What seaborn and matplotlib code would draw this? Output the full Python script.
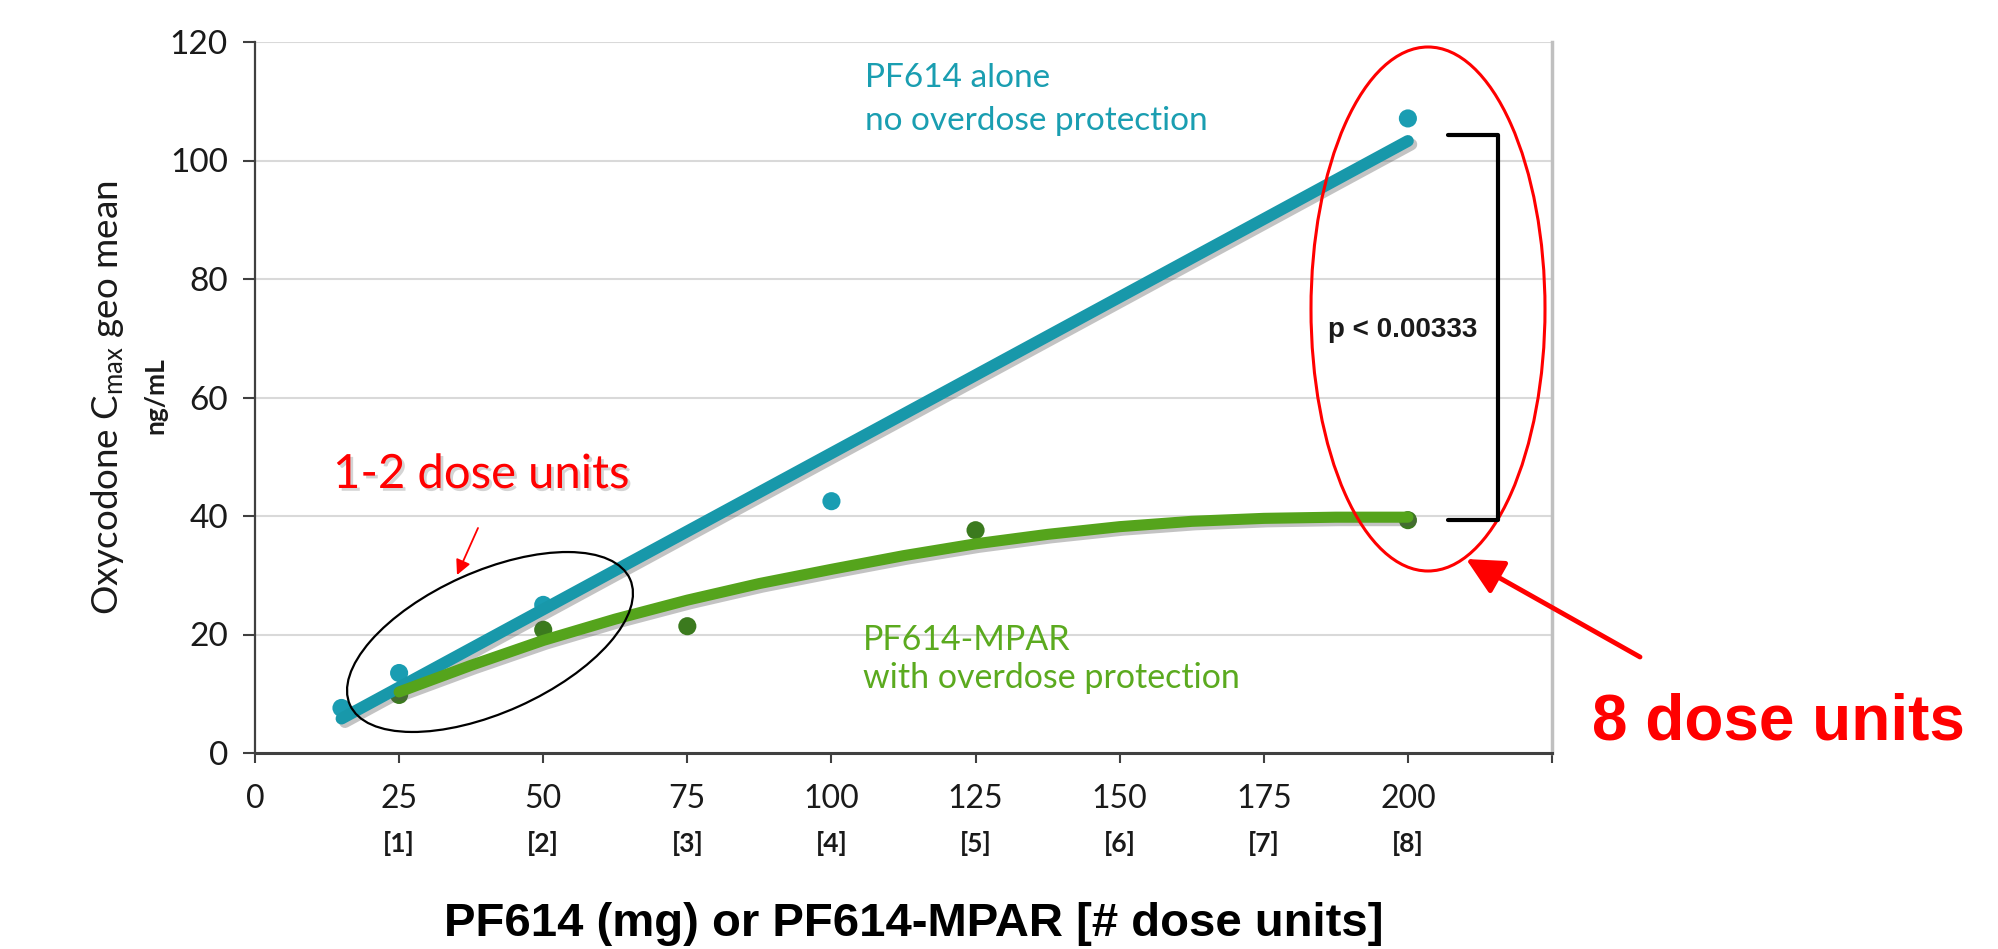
import numpy as np
import pandas as pd
import seaborn as sns
import matplotlib
matplotlib.use("Agg")
import matplotlib.pyplot as plt
from matplotlib import patches
from matplotlib import patheffects as pe
from matplotlib.lines import Line2D
from matplotlib.transforms import blended_transform_factory

# ---------------- data ----------------
x_ticks = [0, 25, 50, 75, 100, 125, 150, 175, 200, 225]
x_tick_labels = ["0", "25", "50", "75", "100", "125", "150", "175", "200", ""]
dose_unit_pos = [25, 50, 75, 100, 125, 150, 175, 200]
dose_unit_labels = ["[1]", "[2]", "[3]", "[4]", "[5]", "[6]", "[7]", "[8]"]
y_ticks = [0, 20, 40, 60, 80, 100, 120]

alone_dose = [15, 25, 50, 100, 200]
alone_cmax = [7.6, 13.5, 25.0, 42.5, 107.1]
mpar_dose = [25, 50, 75, 125, 200]
mpar_cmax = [9.8, 20.8, 21.4, 37.6, 39.3]

alone_trend_dose = [15, 200]
alone_trend_cmax = [5.8, 103.3]
mpar_trend_dose = [25, 37.5, 50, 62.5, 75, 87.5, 100, 112.5, 125, 137.5, 150,
                   162.5, 175, 187.5, 200]
mpar_trend_cmax = [10.3, 14.8, 19.0, 22.6, 25.8, 28.6, 31.0, 33.3, 35.3, 36.9,
                   38.2, 39.1, 39.6, 39.8, 39.8]

# ---------------- style ----------------
sns.set_theme(style="white")
plt.rcParams["font.family"] = ["Lato", "DejaVu Sans"]
plt.rcParams["mathtext.fontset"] = "custom"
plt.rcParams["mathtext.rm"] = "Lato"
plt.rcParams["mathtext.default"] = "regular"

W, H = 1999, 949
fig = plt.figure(figsize=(W / 100, H / 100), dpi=100)
fig.patch.set_facecolor("white")


def F(x, y):
    return (x / W, 1 - y / H)


def P(x, y):
    return (x / 100, (H - y) / 100)


ax = fig.add_axes([255 / W, 196 / H, 1297 / W, 711 / H])
ax.set_facecolor("white")

teal_line = "#1898AA"
teal_dot = "#1A9DB2"
green_line = "#55A41C"
green_dot = "#3B7A1E"

shadow = [pe.SimpleLineShadow(offset=(2.5, -2.5), alpha=0.35, shadow_color="#555555"), pe.Normal()]

sns.scatterplot(x=alone_dose, y=alone_cmax, ax=ax, color=teal_dot, s=170,
                edgecolor="none", zorder=3, legend=False)
sns.scatterplot(x=mpar_dose, y=mpar_cmax, ax=ax, color=green_dot, s=170,
                edgecolor="none", zorder=3, legend=False)

sns.lineplot(x=alone_trend_dose, y=alone_trend_cmax, ax=ax, color=teal_line,
             linewidth=8.5, solid_capstyle="round", path_effects=shadow, zorder=4)
sns.lineplot(x=mpar_trend_dose, y=mpar_trend_cmax, ax=ax, color=green_line,
             linewidth=8.0, solid_capstyle="round", solid_joinstyle="round",
             path_effects=shadow, zorder=4)

ax.set_xlim(0, 225)
ax.set_ylim(0, 120)
ax.set_xticks(x_ticks)
ax.set_xticklabels(x_tick_labels)
ax.set_yticks(y_ticks)
ax.set_xlabel("")
ax.set_ylabel("")

ax.set_axisbelow(True)
ax.yaxis.grid(True, color="#d9d9d9", linewidth=1.5)
ax.xaxis.grid(False)

ax.spines["top"].set_visible(False)
ax.spines["right"].set_color("#c0c0c0")
ax.spines["right"].set_linewidth(2.5)
ax.spines["left"].set_color("#404040")
ax.spines["left"].set_linewidth(1.6)
ax.spines["bottom"].set_color("#404040")
ax.spines["bottom"].set_linewidth(2.2)

ax.tick_params(axis="x", direction="out", length=7, width=1.5, color="#404040",
               pad=15, labelsize=23, labelcolor="#1a1a1a", bottom=True)
ax.tick_params(axis="y", direction="out", length=8.5, width=1.5, color="#404040",
               pad=11, labelsize=24, labelcolor="#1a1a1a", left=True)

# dose-unit second row
bt = blended_transform_factory(ax.transData, fig.transFigure)
for xp, lab in zip(dose_unit_pos, dose_unit_labels):
    ax.text(xp, 1 - 843 / H, lab, transform=bt, ha="center", va="center",
            fontsize=19, fontweight="bold", color="#1a1a1a")

# axis labels
fig.text(*F(108, 398), "Oxycodone C$_{max}$ geo mean", rotation=90, ha="center",
         va="center", fontsize=26.5, color="#1a1a1a")
fig.text(*F(155, 396), "ng/mL", rotation=90, ha="center", va="center",
         fontsize=19, fontweight="bold", color="#1a1a1a")
fig.text(*F(914, 936), "PF614 (mg) or PF614-MPAR [# dose units]", ha="center",
         va="baseline", fontsize=34, fontweight="bold", family="Liberation Sans",
         color="black")

# series annotations
teal_txt = "#1A9EB1"
green_txt = "#5BAA1F"
fig.text(*F(865, 87), "PF614 alone", ha="left", va="baseline", fontsize=24, color=teal_txt)
fig.text(*F(865, 130), "no overdose protection", ha="left", va="baseline", fontsize=24, color=teal_txt)
fig.text(*F(863, 650), "PF614-MPAR", ha="left", va="baseline", fontsize=24.5, color=green_txt)
fig.text(*F(863, 688), "with overdose protection", ha="left", va="baseline", fontsize=24.5, color=green_txt)

txt_shadow = [pe.withSimplePatchShadow(offset=(2, -2), alpha=0.25, shadow_rgbFace="#555555")]
fig.text(*F(333, 488), "1-2 dose units", ha="left", va="baseline", fontsize=34,
         color="#ff0000", path_effects=txt_shadow)
fig.text(*F(1592, 739), "8 dose units", ha="left", va="baseline", fontsize=46,
         fontweight="bold", family="Liberation Sans", color="#ff0000")
fig.text(*F(1403, 330), "p < 0.00333", ha="center", va="center", fontsize=20,
         fontweight="bold", family="Liberation Sans", color="#1a1a1a")

# ellipses
ell1 = patches.Ellipse(P(490, 642), 3.07, 1.41, angle=24.2, fill=False,
                       edgecolor="black", linewidth=1.6, transform=fig.dpi_scale_trans)
fig.add_artist(ell1)
ell2 = patches.Ellipse(P(1428, 309), 2.34, 5.24, angle=0, fill=False,
                       edgecolor="#ff0000", linewidth=2.2, transform=fig.dpi_scale_trans)
fig.add_artist(ell2)

# bracket
bx = [1448, 1498, 1498, 1448]
by = [135, 135, 520, 520]
br = Line2D([v / 100 for v in bx], [(H - v) / 100 for v in by], color="black",
            linewidth=3, solid_joinstyle="round", transform=fig.dpi_scale_trans)
fig.add_artist(br)

# arrows
a1 = patches.FancyArrowPatch(P(1640, 657), P(1466, 559),
                             arrowstyle="-|>,head_length=0.9,head_width=0.45",
                             mutation_scale=25, color="#ff0000", linewidth=3.5,
                             shrinkA=0, shrinkB=0, transform=fig.dpi_scale_trans)
fig.add_artist(a1)
a2 = patches.FancyArrowPatch(P(478, 528), P(457, 575),
                             arrowstyle="-|>,head_length=0.6,head_width=0.3",
                             mutation_scale=15, color="#ff0000", linewidth=1.3,
                             shrinkA=0, shrinkB=0, transform=fig.dpi_scale_trans)
fig.add_artist(a2)

fig.savefig("out.png", dpi=100, facecolor="white")
